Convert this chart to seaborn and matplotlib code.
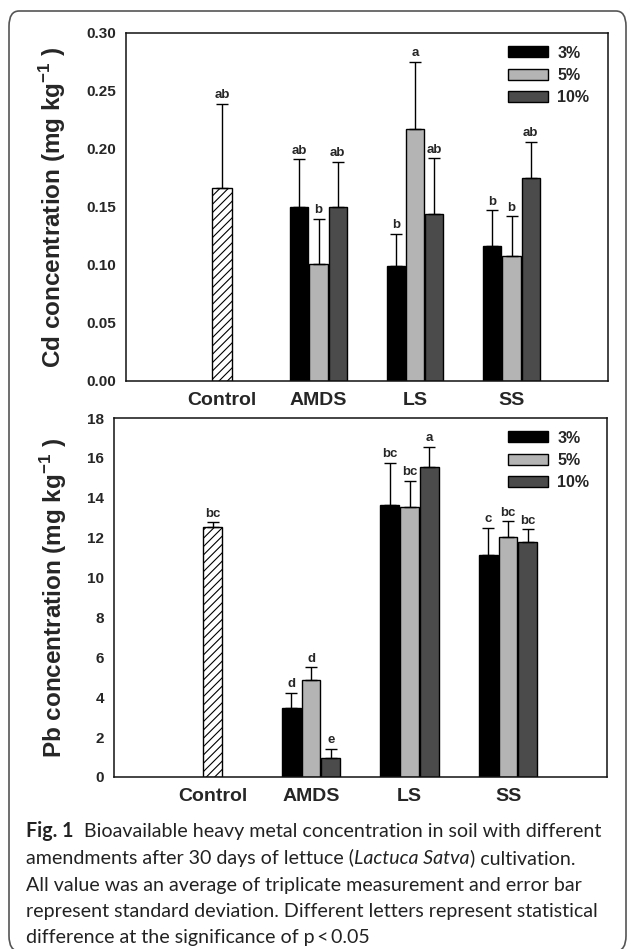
import matplotlib
matplotlib.use('Agg')
import matplotlib.pyplot as plt
from matplotlib.patches import FancyBboxPatch
import numpy as np
import pandas as pd
import seaborn as sns

categories = ['Control', 'AMDS', 'LS', 'SS']
groups = ['AMDS', 'LS', 'SS']
rates = ['3%', '5%', '10%']

# Cd, rows = groups, cols = rates
cd_mean = [[0.150, 0.101, 0.150],
           [0.099, 0.217, 0.144],
           [0.116, 0.108, 0.175]]
cd_sd = [[0.041, 0.039, 0.039],
         [0.028, 0.058, 0.048],
         [0.031, 0.034, 0.031]]
cd_letters = [['ab', 'b', 'ab'],
              ['b', 'a', 'ab'],
              ['b', 'b', 'ab']]
cd_control = 0.166
cd_control_sd = 0.073
cd_control_letter = 'ab'

# Pb
pb_mean = [[3.46, 4.88, 0.95],
           [13.66, 13.56, 15.56],
           [11.15, 12.03, 11.80]]
pb_sd = [[0.77, 0.62, 0.46],
         [2.10, 1.27, 0.98],
         [1.33, 0.79, 0.61]]
pb_letters = [['d', 'd', 'e'],
              ['bc', 'bc', 'a'],
              ['c', 'bc', 'bc']]
pb_control = 12.55
pb_control_sd = 0.22
pb_control_letter = 'bc'

colors = ['#000000', '#b4b4b4', '#4b4b4b']

sns.set_style('white')
plt.rcParams['font.family'] = ['Liberation Sans', 'DejaVu Sans']
plt.rcParams['hatch.linewidth'] = 0.8
plt.rcParams['mathtext.fontset'] = 'custom'
plt.rcParams['mathtext.bf'] = 'Liberation Sans:bold'
plt.rcParams['mathtext.rm'] = 'Liberation Sans'

W, H = 629, 949
fig = plt.figure(figsize=(W / 100, H / 100), dpi=100)


def panel(rect, mean, sd, letters, ctrl, ctrl_sd, ctrl_letter, ylim, yticks, fmt, ylabel, label_x, leg_anchor):
    ax = fig.add_axes(rect)
    rows = []
    for i, g in enumerate(groups):
        for j, r in enumerate(rates):
            rows.append({'group': g, 'rate': r, 'value': mean[i][j], 'sd': sd[i][j], 'letter': letters[i][j]})
    df = pd.DataFrame(rows)
    sns.barplot(data=df, x='group', y='value', hue='rate', order=categories, hue_order=rates,
                palette=colors, width=0.6, gap=0.05, edgecolor='black', linewidth=1,
                errorbar=None, ax=ax)
    ctrl_df = pd.DataFrame({'group': ['Control'], 'value': [ctrl]})
    sns.barplot(data=ctrl_df, x='group', y='value', order=categories, width=0.2, color='white',
                edgecolor='black', linewidth=1, hatch='////', errorbar=None, ax=ax)

    # error bars + letters from the drawn bars
    lookup = {(row.group, row.rate): row for row in df.itertuples()}
    bar_conts = list(ax.containers)
    for k, cont in enumerate(bar_conts):
        for p in cont.patches:
            xc = p.get_x() + p.get_width() / 2
            h = p.get_height()
            if k < 3:
                cat = categories[int(round(xc))]
                row = lookup[(cat, rates[k])]
                err, let = row.sd, row.letter
            else:
                err, let = ctrl_sd, ctrl_letter
            ax.errorbar(xc, h, yerr=[[0], [err]], fmt='none', ecolor='black',
                        elinewidth=1, capsize=4, capthick=1, zorder=3)
            ax.annotate(let, (xc, h + err), xytext=(0, 2), textcoords='offset points',
                        ha='center', va='bottom', fontsize=9.5, fontweight='bold')

    ax.set_xlim(-1, 4)
    ax.set_ylim(*ylim)
    ax.set_yticks(yticks)
    ax.set_yticklabels([fmt.format(v) for v in yticks])
    ax.tick_params(length=0, labelsize=11, pad=7)
    ax.tick_params(axis='x', labelsize=14, pad=8)
    for t in ax.get_xticklabels() + ax.get_yticklabels():
        t.set_fontweight('bold')
    ax.set_xlabel('')
    ax.set_ylabel(ylabel, fontsize=17.5, fontweight='bold')
    ax.yaxis.set_label_coords(label_x, 0.5)
    for s in ax.spines.values():
        s.set_visible(True)
        s.set_color('#111111')
        s.set_linewidth(1.1)

    handles, labels = ax.get_legend_handles_labels()
    ax.legend(handles[:3], labels[:3], loc='upper right', bbox_to_anchor=leg_anchor,
              frameon=False, handlelength=2.5, handleheight=0.68, labelspacing=0.45,
              handletextpad=0.6, borderpad=0, borderaxespad=0,
              prop={'weight': 'bold', 'size': 11.5})
    return ax


panel([125.5 / W, 1 - 381 / H, 482.5 / W, 348 / H], cd_mean, cd_sd, cd_letters,
      cd_control, cd_control_sd, cd_control_letter, (0, 0.30),
      [0, 0.05, 0.10, 0.15, 0.20, 0.25, 0.30], '{:.2f}',
      'Cd concentration (mg kg$^{\\mathbf{-1}}$ )', -0.119, (0.961, 0.964))

panel([114 / W, 1 - 777 / H, 492.5 / W, 359 / H], pb_mean, pb_sd, pb_letters,
      pb_control, pb_control_sd, pb_control_letter, (0, 18),
      list(range(0, 19, 2)), '{:d}',
      'Pb concentration (mg kg$^{\\mathbf{-1}}$ )', -0.091, (0.965, 0.965))

# rounded frame (bottom edge runs off the page)
frame = FancyBboxPatch((9 / W, 1 - 951 / H), 617 / W, 940 / H,
                       boxstyle='round,pad=0,rounding_size=0.016',
                       transform=fig.transFigure, facecolor='none',
                       edgecolor='#555555', linewidth=1.2)
fig.patches.append(frame)

# caption
cap_lines = [
    [('Fig. 1', 'bold', 'normal'), ('  Bioavailable heavy metal concentration in soil with different', 'normal', 'normal')],
    [('amendments after 30 days of lettuce (', 'normal', 'normal'), ('Lactuca Satva', 'normal', 'italic'),
     (') cultivation.', 'normal', 'normal')],
    [('All value was an average of triplicate measurement and error bar', 'normal', 'normal')],
    [('represent standard deviation. Different letters represent statistical', 'normal', 'normal')],
    [('difference at the significance of p\u2009<\u20090.05', 'normal', 'normal')],
]
cap_y = [831, 858, 885, 912, 938]
renderer = fig.canvas.get_renderer()
for pieces, yy in zip(cap_lines, cap_y):
    x = 26
    for txt, wt, st in pieces:
        t = fig.text(x / W, 1 - yy / H, txt, fontsize=14.1, fontweight=wt, fontstyle=st,
                     family=['Lato', 'DejaVu Sans'], va='center', ha='left', color='#222222')
        x += t.get_window_extent(renderer).width

fig.savefig('out.png', dpi=100)
